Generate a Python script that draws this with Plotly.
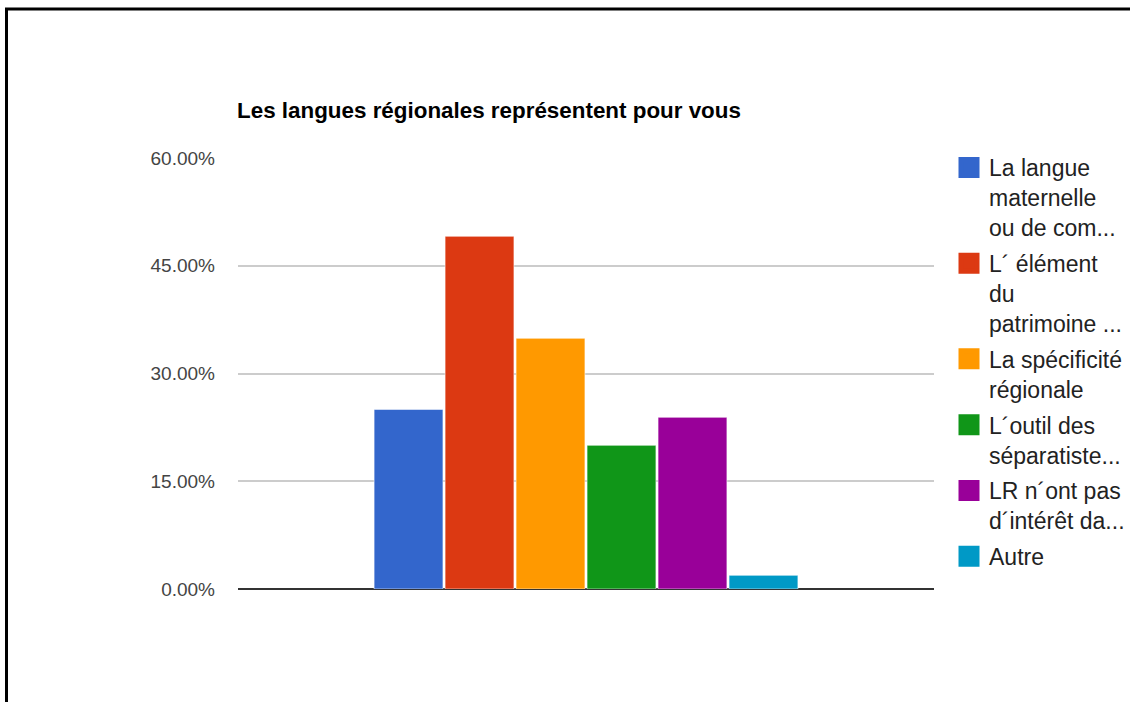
import plotly.graph_objects as go

# Survey answers (multiple choice) and share of respondents
categories = [
    "La langue<br>maternelle<br>ou de com...",
    "L\u00b4 élément<br>du<br>patrimoine ...",
    "La spécificité<br>régionale",
    "L\u00b4outil des<br>séparatiste...",
    "LR n\u00b4ont pas<br>d\u00b4intérêt da...",
    "Autre",
]
shares = [0.25, 0.491, 0.349, 0.20, 0.239, 0.019]
colors = ["#3366cc", "#dc3912", "#ff9900", "#109618", "#990099", "#0099c6"]
y_ticks = [0.0, 0.15, 0.30, 0.45, 0.60]

W, H = 1130, 702
plot_l, plot_r, plot_t, plot_b = 238, 934, 158, 589

fig = go.Figure()
for i, (name, val, col) in enumerate(zip(categories, shares, colors)):
    fig.add_trace(go.Bar(
        x=[0], y=[val], name=name, showlegend=False,
        marker=dict(color=col, line=dict(color="rgba(255,255,255,0.55)", width=1)),
        hoverinfo="name+y",
    ))
    # legend entry with a large square swatch
    fig.add_trace(go.Scatter(
        x=[None], y=[None], mode="markers", name=name, legendgroup=f"g{i}",
        marker=dict(symbol="square", size=16, color=col,
                    line=dict(color=col, width=5)),
        hoverinfo="skip",
    ))

def px_x(p):
    return (p - plot_l) / (plot_r - plot_l)

def px_y(p):
    return (plot_b - p) / (plot_b - plot_t)

# frame around the chart
frame = dict(type="line", xref="paper", yref="paper",
             line=dict(color="#000000", width=3), layer="above")
fig.add_shape(**frame, x0=px_x(6.5), x1=px_x(6.5), y0=px_y(H + 5), y1=px_y(9))
fig.add_shape(**frame, x0=px_x(5), x1=px_x(W + 5), y0=px_y(9), y1=px_y(9))

fig.update_layout(
    width=W, height=H,
    margin=dict(l=plot_l, r=W - plot_r, t=plot_t, b=H - plot_b, autoexpand=False),
    paper_bgcolor="#ffffff", plot_bgcolor="#ffffff",
    barmode="group", bargap=0.388, bargroupgap=0.03,
    font=dict(family="Arial, 'Liberation Sans', sans-serif", color="#222222"),
    title=dict(
        text="<b>Les langues régionales représentent pour vous</b>",
        x=237 / W, xanchor="left", xref="container",
        y=1 - 110 / H, yanchor="middle", yref="container",
        font=dict(size=22.4, color="#000000"),
    ),
    xaxis=dict(range=[-0.5, 0.5], showticklabels=False, showgrid=False,
               zeroline=False, showline=False, ticks=""),
    yaxis=dict(range=[0, 0.6], tickvals=y_ticks, tickformat=".2%",
               showgrid=True, gridcolor="#cccccc", gridwidth=1.5,
               zeroline=True, zerolinecolor="#333333", zerolinewidth=2,
               showline=False, ticks="", ticklabelstandoff=22,
               tickfont=dict(size=19, color="#444444")),
    legend=dict(
        x=px_x(949), xanchor="left", y=px_y(146), yanchor="top",
        font=dict(size=23, color="#222222"),
        bgcolor="rgba(0,0,0,0)", borderwidth=0,
        traceorder="grouped", tracegroupgap=3, valign="top",
        itemsizing="trace", maxheight=650,
    ),
    showlegend=True,
)

fig.write_html("out.html")
